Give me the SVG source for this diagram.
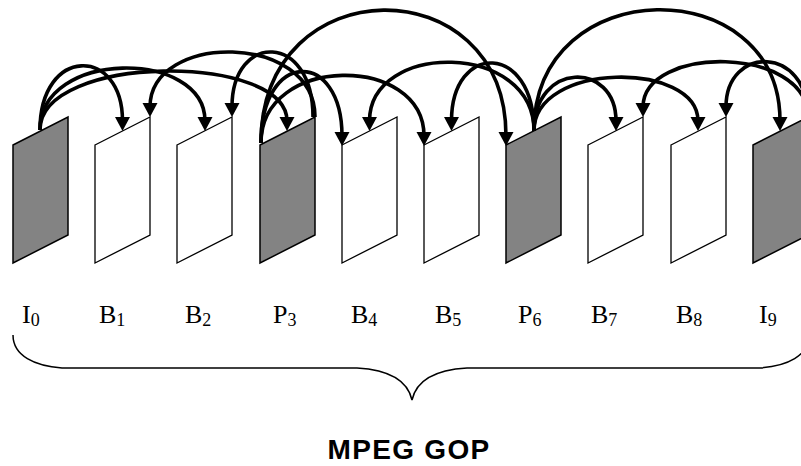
<svg xmlns="http://www.w3.org/2000/svg" width="801" height="466" viewBox="0 0 801 466">
<style>
.fr{stroke:#000;stroke-width:1.3;stroke-linejoin:miter}
.ref{fill:#838383;stroke-width:1.5}
.bf{fill:#fff}
.arc{fill:none;stroke:#000;stroke-width:3.6;marker-end:url(#ah)}
.lbl{font-family:"Liberation Serif","Times New Roman",serif;font-size:26px;fill:#000}
.sub{font-size:18px}
.brace{fill:none;stroke:#000;stroke-width:1.5}
.title{font-family:"Liberation Sans",Arial,sans-serif;font-size:28px;font-weight:bold;fill:#000;letter-spacing:1.3px}
</style>
<defs>
<marker id="ah" markerUnits="userSpaceOnUse" markerWidth="18" markerHeight="18" viewBox="0 0 18 18" refX="4" refY="9" orient="auto" overflow="visible">
<path d="M0,1.5 L14,9 L0,16.5 Z" fill="#000"/>
</marker>
</defs>
<g id="frames">
<g id="I0"><polygon class="fr ref" points="13,145 68,117 68,235 13,263"/></g>
<g id="B1"><polygon class="fr bf" points="95,145 150,117 150,235 95,263"/></g>
<g id="B2"><polygon class="fr bf" points="177,145 232,117 232,235 177,263"/></g>
<g id="P3"><polygon class="fr ref" points="260,145 315,117 315,235 260,263"/></g>
<g id="B4"><polygon class="fr bf" points="342,145 397,117 397,235 342,263"/></g>
<g id="B5"><polygon class="fr bf" points="424,145 479,117 479,235 424,263"/></g>
<g id="P6"><polygon class="fr ref" points="506,145 561,117 561,235 506,263"/></g>
<g id="B7"><polygon class="fr bf" points="588,145 643,117 643,235 588,263"/></g>
<g id="B8"><polygon class="fr bf" points="671,145 726,117 726,235 671,263"/></g>
<g id="I9"><polygon class="fr ref" points="753,145 808,117 808,235 753,263"/></g>
</g>
<g id="connectors">
<path class="arc" d="M40,130 C40,46 122.5,46 122.5,121"/>
<path class="arc" d="M40,130 C40,49 205,49 205,121"/>
<path class="arc" d="M40,130 C40,53 287,53 287,121"/>
<path class="arc" d="M315,117 C315,32 150,32 150,107"/>
<path class="arc" d="M313,117 C313,32 232,32 232,107"/>
<path class="arc" d="M261,143 C261,49 342,49 342,136"/>
<path class="arc" d="M261,143 C261,54 424,54 424,136"/>
<path class="arc" d="M261,143 C261,-33 506,-33 506,136"/>
<path class="arc" d="M534,131 C534,41 369.5,41 369.5,121"/>
<path class="arc" d="M534,131 C534,42 451.5,42 451.5,121"/>
<path class="arc" d="M534,131 C534,61 616,61 616,121"/>
<path class="arc" d="M534,131 C534,61 698,61 698,121"/>
<path class="arc" d="M534,131 C534,-29 780,-29 780,121"/>
<path class="arc" d="M808,117 C808,45 643,45 643,107"/>
<path class="arc" d="M808,117 C808,45 726,45 726,107"/>
</g>
<g id="labels">
<text class="lbl" x="22" y="323">I<tspan class="sub" dy="3">0</tspan></text>
<text class="lbl" x="99" y="323">B<tspan class="sub" dy="3">1</tspan></text>
<text class="lbl" x="185" y="323">B<tspan class="sub" dy="3">2</tspan></text>
<text class="lbl" x="273" y="323">P<tspan class="sub" dy="3">3</tspan></text>
<text class="lbl" x="351" y="323">B<tspan class="sub" dy="3">4</tspan></text>
<text class="lbl" x="435" y="323">B<tspan class="sub" dy="3">5</tspan></text>
<text class="lbl" x="518" y="323">P<tspan class="sub" dy="3">6</tspan></text>
<text class="lbl" x="591" y="323">B<tspan class="sub" dy="3">7</tspan></text>
<text class="lbl" x="676" y="323">B<tspan class="sub" dy="3">8</tspan></text>
<text class="lbl" x="759" y="323">I<tspan class="sub" dy="3">9</tspan></text>
</g>
<g id="brace">
<path class="brace" d="M13,335 C13,356 35,366 62,368 L357,368 C392,370 408,382 412,400 C416,382 432,370 467,368 L760,368 C787,366 809,356 809,335"/>
</g>
<text class="title" x="409" y="459" text-anchor="middle">MPEG GOP</text>
</svg>
